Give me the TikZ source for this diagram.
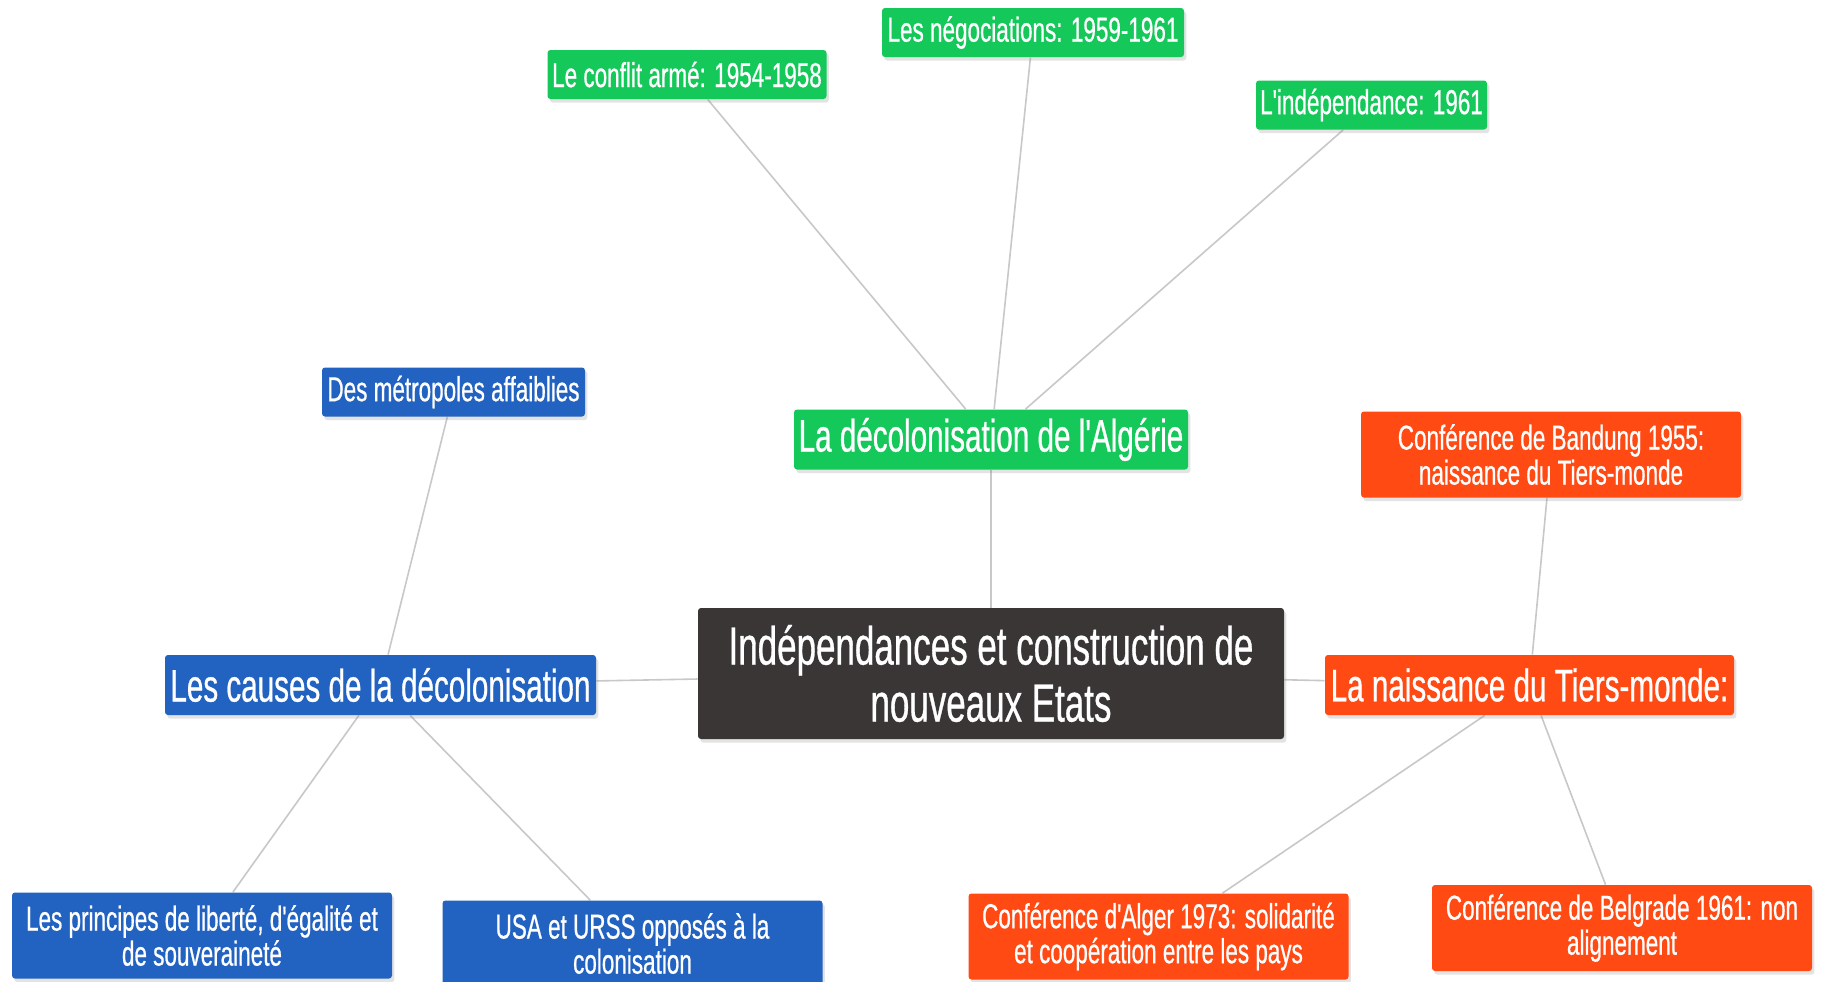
\documentclass[tikz,border=0pt]{standalone}
\usepackage{fontspec}
\setmainfont{Liberation Sans}[FakeStretch=0.65, FakeBold=0.6, Ligatures=TeXOff]
\usetikzlibrary{shadows,backgrounds}
\definecolor{cgreen}{RGB}{20,200,90}
\definecolor{cblue}{RGB}{34,98,192}
\definecolor{corange}{RGB}{255,74,20}
\definecolor{cdark}{RGB}{58,54,54}
\definecolor{cline}{RGB}{200,200,200}
\begin{document}
\begin{tikzpicture}[x=0.5pt,y=-0.5pt,
  box/.style={rounded corners=1.5pt, text=white, inner sep=0pt, align=center,
    drop shadow={shadow xshift=1.2pt,shadow yshift=-1.8pt,opacity=0.22}},
  lvone/.style={box, font=\fontsize{22.8}{24}\selectfont, minimum height=30pt},
  lvtwo/.style={box, font=\fontsize{17.3}{17.5}\selectfont, minimum height=24.5pt},
  lvtwotwo/.style={box, font=\fontsize{17.3}{17.5}\selectfont, minimum height=43pt, minimum width=190pt},
  gfill/.style={fill=cgreen},
  bfill/.style={fill=cblue},
  ofill/.style={fill=corange},
  central/.style={box, fill=cdark, font=\fontsize{26.9}{28.5}\selectfont, minimum width=293pt, minimum height=65.5pt},
  link/.style={draw=cline, line width=0.8pt}]
\useasboundingbox (0,0) rectangle (1825,981);
\node[lvtwo,gfill,minimum width=139.5pt] (conflit) at (687,74.5) {Le conflit armé: 1954-1958};
\node[lvtwo,gfill,minimum width=151pt] (nego) at (1033,32.5) {Les négociations: 1959-1961};
\node[lvtwo,gfill,minimum width=115.5pt] (indep) at (1371.5,105) {L'indépendance: 1961};
\node[lvone,gfill,minimum width=197pt] (alg) at (991,439.5) {La décolonisation de l'Algérie};
\node[lvtwo,bfill,minimum width=131.5pt] (metro) at (453.5,392) {Des métropoles affaiblies};
\node[lvone,bfill,minimum width=215.5pt] (causes) at (380.5,685) {Les causes de la décolonisation};
\node[central] (center) at (991,673.5) {Indépendances et construction de\\nouveaux Etats};
\node[lvtwotwo,ofill] (bandung) at (1551,454.5) {Conférence de Bandung 1955:\\naissance du Tiers-monde};
\node[lvone,ofill,minimum width=204.5pt] (naiss) at (1529.5,685) {La naissance du Tiers-monde:};
\node[lvtwotwo,bfill] (princ) at (202,935.5) {Les principes de liberté, d'égalité et\\de souveraineté};
\node[lvtwotwo,bfill] (usa) at (632.5,943.5) {USA et URSS opposés à la\\colonisation};
\node[lvtwotwo,ofill] (alger) at (1158.5,936.5) {Conférence d'Alger 1973: solidarité\\et coopération entre les pays};
\node[lvtwotwo,ofill] (belg) at (1622,928) {Conférence de Belgrade 1961: non\\alignement};
\begin{scope}[on background layer]
\fill[white] (0,0) rectangle (1825,981);
\draw[link] (conflit) -- (alg);
\draw[link] (nego) -- (alg);
\draw[link] (indep) -- (alg);
\draw[link] (alg) -- (center);
\draw[link] (metro) -- (causes);
\draw[link] (causes) -- (center);
\draw[link] (causes) -- (princ);
\draw[link] (causes) -- (usa);
\draw[link] (center) -- (naiss);
\draw[link] (bandung) -- (naiss);
\draw[link] (naiss) -- (alger);
\draw[link] (naiss) -- (belg);
\end{scope}
\end{tikzpicture}
\end{document}
